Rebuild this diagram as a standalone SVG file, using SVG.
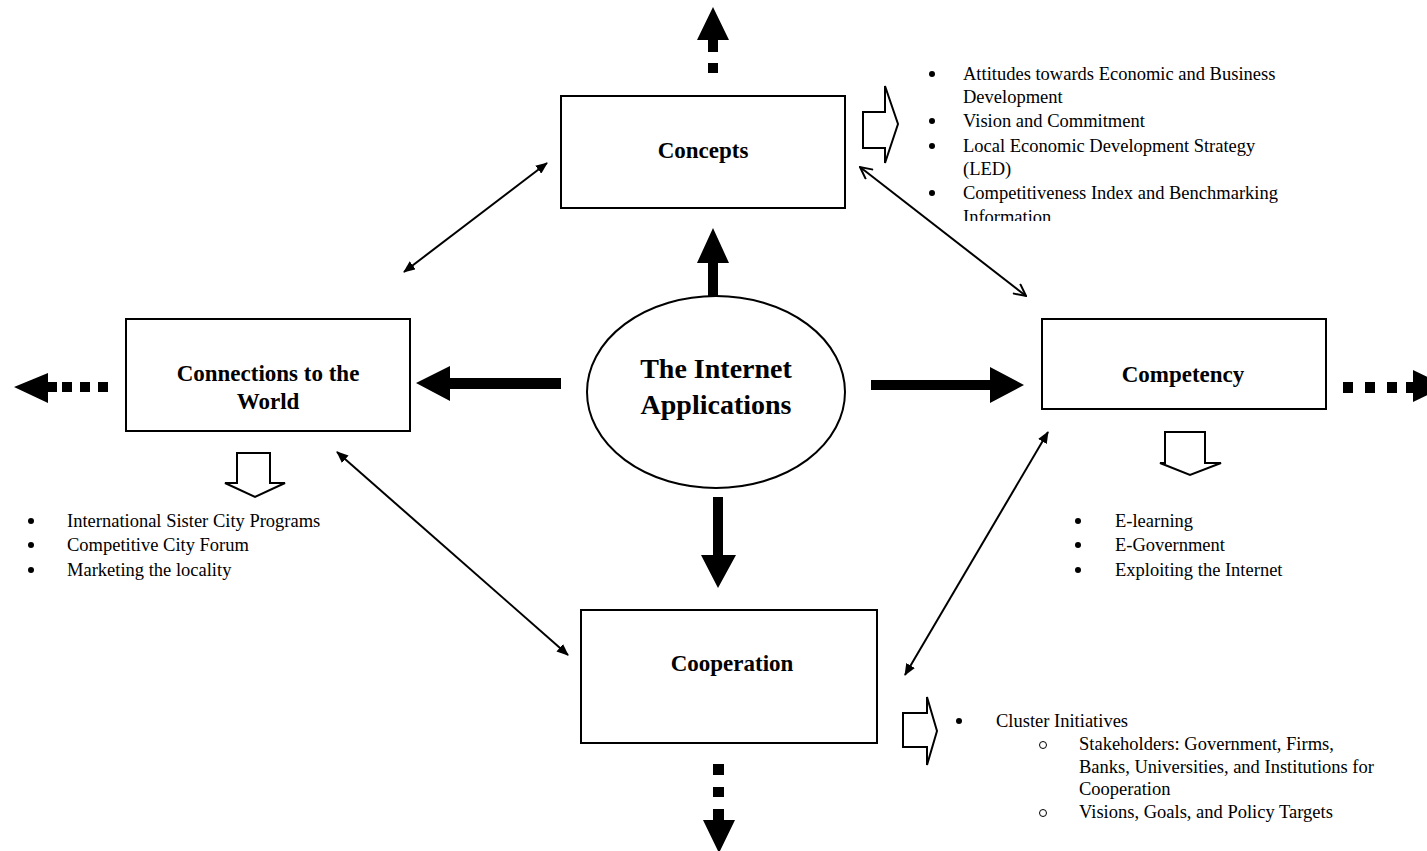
<svg xmlns="http://www.w3.org/2000/svg" width="1427" height="851" viewBox="0 0 1427 851">
<defs>
<style>
.box{fill:#fff;stroke:#000;stroke-width:2}
.lbl{font-family:"Liberation Serif","Times New Roman",serif;font-weight:bold;font-size:23px;fill:#000;text-anchor:middle}
.big{font-family:"Liberation Serif","Times New Roman",serif;font-weight:bold;font-size:28px;fill:#000;text-anchor:middle}
.txt{font-family:"Liberation Serif","Times New Roman",serif;font-size:18.5px;fill:#000}
.solid{fill:#000;stroke:none}
.hollow{fill:#fff;stroke:#000;stroke-width:2;stroke-linejoin:miter}
.thin{stroke:#000;stroke-width:2;fill:none}
.sub{fill:none;stroke:#000;stroke-width:1}
</style>
<marker id="fa" viewBox="0 0 12 10" refX="11" refY="5" markerWidth="12" markerHeight="10" markerUnits="userSpaceOnUse" orient="auto-start-reverse">
<path d="M0,0 L12,5 L0,10 z" fill="#000"/>
</marker>
<marker id="oa" viewBox="0 0 14 14" refX="13" refY="7" markerWidth="14" markerHeight="14" markerUnits="userSpaceOnUse" orient="auto-start-reverse">
<path d="M1,1 L13,7 L1,13" fill="none" stroke="#000" stroke-width="2"/>
</marker>
<clipPath id="clipC"><rect x="900" y="55" width="420" height="166"/></clipPath>
</defs>
<rect width="1427" height="851" fill="#fff"/>

<g id="connectors">
<polygon class="solid" points="708,296 708,263 697,263 713,228 729,263 718,263 718,296"/>
<polygon class="solid" points="713,497 723,497 723,555 736,555 718,588 701,555 713,555"/>
<polygon class="solid" points="561,378 450,378 450,366 416,383 450,401 450,389 561,389"/>
<polygon class="solid" points="871,380 990,380 990,367 1024,385 990,403 990,390 871,390"/>
<g id="dot-up">
<polygon class="solid" points="708,52 708,40 697,40 713,7 729,40 718,40 718,52"/>
<rect class="solid" x="708" y="63" width="10" height="10"/>
</g>
<g id="dot-left">
<polygon class="solid" points="57,382 48,382 48,373 14,387 48,403 48,392 57,392"/>
<rect class="solid" x="62" y="382" width="10" height="10"/>
<rect class="solid" x="80" y="382" width="10" height="10"/>
<rect class="solid" x="98" y="382" width="10" height="10"/>
</g>
<g id="dot-right">
<rect class="solid" x="1343" y="382" width="10" height="11"/>
<rect class="solid" x="1365" y="382" width="10" height="11"/>
<rect class="solid" x="1387" y="382" width="10" height="11"/>
<polygon class="solid" points="1406,382 1413,382 1413,370 1446,386 1413,402 1413,393 1406,393"/>
</g>
<g id="dot-down">
<rect class="solid" x="713" y="764" width="11" height="11"/>
<rect class="solid" x="713" y="787" width="11" height="10"/>
<polygon class="solid" points="713,809 724,809 724,820 735,820 719,853 703,820 713,820"/>
</g>
<line class="thin" x1="547" y1="163" x2="404" y2="272" marker-start="url(#fa)" marker-end="url(#fa)"/>
<line class="thin" x1="860" y1="167" x2="1026" y2="296" marker-start="url(#oa)" marker-end="url(#oa)"/>
<line class="thin" x1="337" y1="452" x2="568" y2="655" marker-start="url(#fa)" marker-end="url(#fa)"/>
<line class="thin" x1="1048" y1="432" x2="905" y2="675" marker-start="url(#fa)" marker-end="url(#fa)"/>
<polygon class="hollow" points="863,112 885,112 885,86 898,124 885,163 885,148 863,148"/>
<polygon class="hollow" points="237,453 270,453 270,483 285,483 255,497 225,483 237,483"/>
<polygon class="hollow" points="1165,432 1205,432 1205,463 1221,463 1190,475 1160,463 1165,463"/>
<polygon class="hollow" points="903,713 927,713 927,697 937,731 927,765 927,747 903,747"/>
</g>

<g id="center">
<ellipse cx="716" cy="392" rx="129" ry="96" fill="#fff" stroke="#000" stroke-width="2"/>
<text class="big" x="716" y="378">The Internet</text>
<text class="big" x="716" y="414">Applications</text>
</g>

<g id="concepts">
<rect class="box" x="561" y="96" width="284" height="112"/>
<text class="lbl" x="703" y="158">Concepts</text>
</g>

<g id="connections">
<rect class="box" x="126" y="319" width="284" height="112"/>
<text class="lbl" x="268" y="381">Connections to the</text>
<text class="lbl" x="268" y="409">World</text>
</g>

<g id="competency">
<rect class="box" x="1042" y="319" width="284" height="90"/>
<text class="lbl" x="1183" y="382">Competency</text>
</g>

<g id="cooperation">
<rect class="box" x="581" y="610" width="296" height="133"/>
<text class="lbl" x="732" y="671">Cooperation</text>
</g>

<g id="concepts-list" class="txt" clip-path="url(#clipC)">
<circle class="solid" cx="932" cy="74" r="3"/><text x="963" y="80">Attitudes towards Economic and Business</text>
<text x="963" y="103">Development</text>
<circle class="solid" cx="932" cy="121" r="3"/><text x="963" y="127">Vision and Commitment</text>
<circle class="solid" cx="932" cy="146" r="3"/><text x="963" y="152">Local Economic Development Strategy</text>
<text x="963" y="175">(LED)</text>
<circle class="solid" cx="932" cy="193" r="3"/><text x="963" y="199">Competitiveness Index and Benchmarking</text>
<text x="963" y="223">Information</text>
</g>

<g id="connections-list" class="txt">
<circle class="solid" cx="31" cy="521" r="3"/><text x="67" y="527">International Sister City Programs</text>
<circle class="solid" cx="31" cy="545" r="3"/><text x="67" y="551">Competitive City Forum</text>
<circle class="solid" cx="31" cy="570" r="3"/><text x="67" y="576">Marketing the locality</text>
</g>

<g id="competency-list" class="txt">
<circle class="solid" cx="1078" cy="521" r="3"/><text x="1115" y="527">E-learning</text>
<circle class="solid" cx="1078" cy="545" r="3"/><text x="1115" y="551">E-Government</text>
<circle class="solid" cx="1078" cy="570" r="3"/><text x="1115" y="576">Exploiting the Internet</text>
</g>

<g id="cooperation-list" class="txt">
<circle class="solid" cx="959" cy="721" r="3"/><text x="996" y="727">Cluster Initiatives</text>
<circle class="sub" cx="1043" cy="745" r="3.5"/><text x="1079" y="750">Stakeholders: Government, Firms,</text>
<text x="1079" y="773">Banks, Universities, and Institutions for</text>
<text x="1079" y="795">Cooperation</text>
<circle class="sub" cx="1043" cy="813" r="3.5"/><text x="1079" y="818">Visions, Goals, and Policy Targets</text>
</g>
</svg>
